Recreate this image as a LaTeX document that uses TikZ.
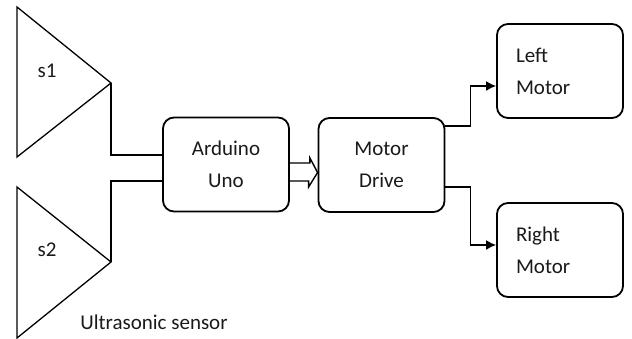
\documentclass[tikz,border=0pt]{standalone}
\usepackage{fontspec}
\setmainfont{Carlito}
\usetikzlibrary{arrows.meta, positioning}
\definecolor{DiagBlack}{HTML}{000000}
\definecolor{DiagText}{HTML}{1A1A1A}
\tikzset{
    % Box styles - rounded corners
    block/.style={
        rectangle,
        rounded corners=11pt,
        draw=DiagBlack,
        fill=white,
        line width=1.8pt,
        minimum width=126pt,
        minimum height=94pt,
        align=center,
        font=\fontsize{21}{32}\selectfont,
        text=DiagText
    },
    motorblock/.style={
        block,
        align=left,
        text width=88pt,
        inner xsep=19pt
    },
    sensor/.style={
        draw=DiagBlack,
        line width=1.3pt
    },
    sensortext/.style={
        font=\fontsize{21}{26}\selectfont,
        text=DiagText
    },
    % Arrow styles
    wire/.style={
        line width=2.2pt,
        draw=DiagBlack
    },
    arrow/.style={
        -{Latex[length=10pt,width=10pt]},
        line width=1.6pt,
        draw=DiagBlack
    },
    busarrow/.style={
        line width=1.4pt,
        line join=miter,
        draw=DiagBlack
    }
}
\begin{document}
\begin{tikzpicture}[x=1pt, y=-1pt]
    \useasboundingbox (0,0) rectangle (632,339);

    % ultrasonic sensors
    \coordinate (s1tip) at (111,83);
    \coordinate (s2tip) at (111,262);
    \draw[sensor] (17,7) -- (s1tip) -- (17,157) -- cycle;
    \draw[sensor] (17,187) -- (s2tip) -- (17,338) -- cycle;
    \node[sensortext] (s1) at (47,71) {s1};
    \node[sensortext] (s2) at (47,250) {s2};
    \node[sensortext] (us) at (154,322) {Ultrasonic sensor};

    \node[block] (ard) at (226,164.5) {Arduino\\Uno};
    \node[block] (drive) at (381.5,165) {Motor\\Drive};
    \node[motorblock] (left) at (560,71) {Left\\Motor};
    \node[motorblock] (right) at (560,250) {Right\\Motor};

    \draw[wire] (s1tip) |- ([yshift=9.5pt]ard.west);
    \draw[wire] (s2tip) |- ([yshift=-16.5pt]ard.west);
    % hollow bus arrow
    \draw[busarrow] ([yshift=1.5pt]ard.east) -- ++(20,0) -- ++(0,-5)
        -- ([yshift=-7.5pt]drive.west) -- ++(-9,14.5) -- ++(0,-6)
        -- ([yshift=-16.5pt]ard.east);
    \draw[arrow] ([yshift=39pt]drive.east) -- ++(25,0) |- ([yshift=-15pt]left.west);
    \draw[arrow] ([yshift=-22pt]drive.east) -- ++(25,0) |- ([yshift=5pt]right.west);
\end{tikzpicture}
\end{document}
